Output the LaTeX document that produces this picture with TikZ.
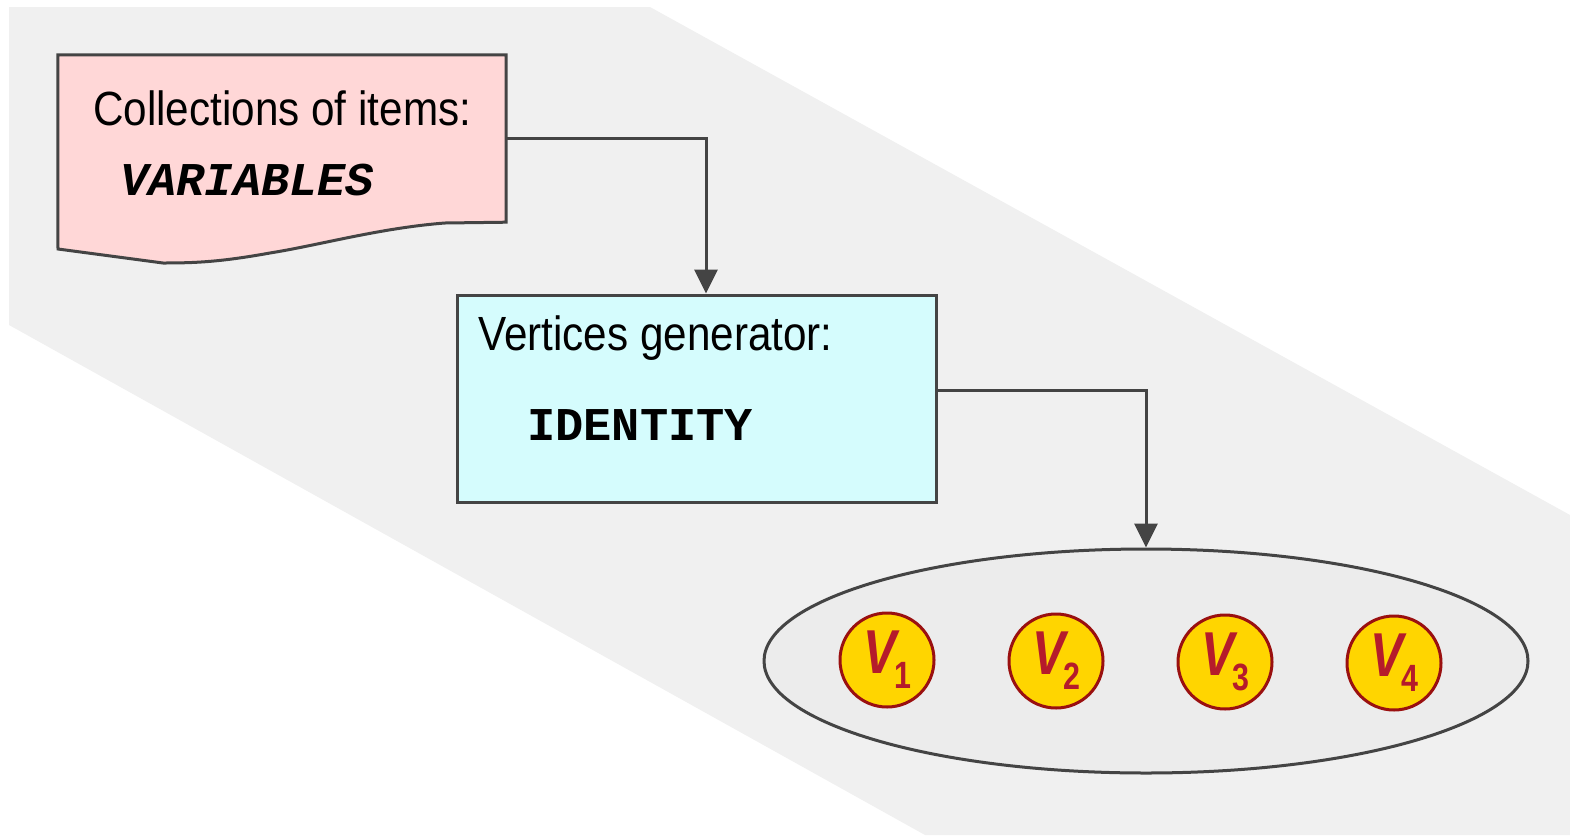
\documentclass[tikz,border=0pt]{standalone}
\usepackage{fontspec}
\usetikzlibrary{arrows.meta,shapes.geometric,calc}
\setmainfont{Liberation Sans}
\newfontfamily\lblfont[FakeStretch=0.88]{Liberation Sans}
\newfontfamily\vfont[FakeStretch=0.8]{Liberation Sans}
\newfontfamily\codefont{Liberation Mono}
\definecolor{bggray}{HTML}{F0F0F0}
\definecolor{linegray}{HTML}{444444}
\definecolor{docpink}{HTML}{FFD7D7}
\definecolor{gencyan}{HTML}{D5FCFD}
\definecolor{setgray}{HTML}{ECECEC}
\definecolor{vgold}{HTML}{FFD500}
\definecolor{vrim}{HTML}{9A1010}
\definecolor{vtext}{HTML}{B51B2B}
\tikzset{
  outline/.style={draw=linegray, line width=3pt},
  flow/.style={draw=linegray, line width=3pt, -{Triangle[width=23pt,length=24pt]}},
  plaintext/.style={inner sep=0pt, anchor=base west},
  vertex/.style={circle, draw=vrim, line width=3pt, fill=vgold, minimum size=94pt, inner sep=0pt, text=vtext},
}
\newcommand{\vlabel}[1]{{\vfont\fontsize{62}{62}\selectfont\bfseries\itshape V}\kern-2pt\raisebox{-15pt}{\vfont\fontsize{38}{38}\selectfont\bfseries #1}}
\begin{document}
\begin{tikzpicture}[x=1pt, y=-1pt]
  \useasboundingbox (0,0) rectangle (1570,835);
  % shaded band behind the flow
  \fill[bggray] (9,7) -- (650,7) -- (1570,515) -- (1570,835) -- (925,835) -- (9,325) -- cycle;

  % document-shaped source box
  \node[rectangle, minimum width=448pt, minimum height=167pt, inner sep=0pt] (doc) at (282,138.5) {};
  \path[outline, fill=docpink] (doc.north west) -- (doc.north east) -- (doc.south east)
    -- (445,223) .. controls (380,228) and (320,245) .. (270,253)
    .. controls (220,262) and (195,263) .. (163,263) -- (58,249) -- cycle;
  \node[plaintext] (doctitle) at (93,125) {\lblfont\fontsize{48}{48}\selectfont Collections of items:};
  \node[plaintext] (docname) at (120,195) {\codefont\fontsize{47}{47}\selectfont\bfseries\itshape VARIABLES};

  % generator box
  \node[rectangle, outline, fill=gencyan, minimum width=479pt, minimum height=207pt, inner sep=0pt] (gen) at (696.5,398.5) {};
  \node[plaintext] (gentitle) at (478,350) {\lblfont\fontsize{48}{48}\selectfont Vertices generator:};
  \node[plaintext] (genname) at (527,440) {\codefont\fontsize{47}{47}\selectfont\bfseries IDENTITY};

  % resulting vertex set
  \node[ellipse, outline, fill=setgray, minimum width=764pt, minimum height=224pt, inner sep=0pt] (set) at (1146,661) {};
  \node[vertex] (v1) at (887,660) {\vlabel{1}};
  \node[vertex] (v2) at (1056,661) {\vlabel{2}};
  \node[vertex] (v3) at (1225,662) {\vlabel{3}};
  \node[vertex] (v4) at (1394,663) {\vlabel{4}};

  % connectors
  \draw[flow] (doc.east) -| ([xshift=9.5pt]gen.north);
  \draw[flow] ([yshift=8.5pt]gen.east) -| (set.north);
\end{tikzpicture}
\end{document}
